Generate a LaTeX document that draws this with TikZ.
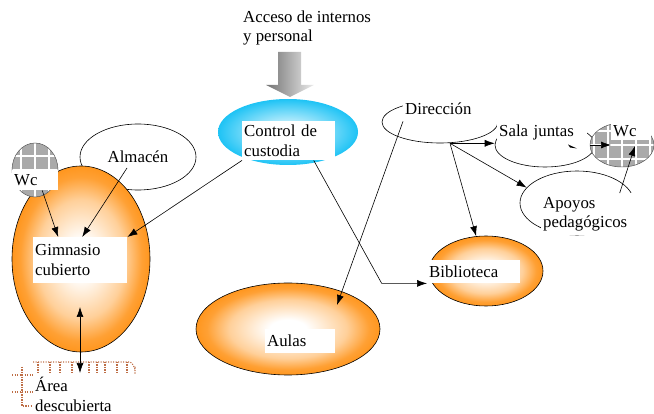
\documentclass[tikz,border=0pt]{standalone}
\usepackage{fontspec}
\setmainfont{Liberation Serif}
\usetikzlibrary{shapes.geometric,arrows.meta}
\definecolor{ballorange}{RGB}{255,150,30}
\definecolor{ballcyan}{RGB}{30,195,245}
\definecolor{tilegray}{RGB}{170,170,170}
\definecolor{dotbrown}{RGB}{190,110,70}
\pgfdeclareradialshading{ballshade}{\pgfpoint{0bp}{0bp}}{color(0bp)=(white); color(5bp)=(white); color(16bp)=(ballorange!45!white); color(22bp)=(ballorange!90!white); color(25bp)=(ballorange); color(50bp)=(ballorange)}

\begin{document}
\begin{tikzpicture}[x=1pt,y=-1pt,
  every node/.style={font=\fontsize{16.8}{19.5}\selectfont},
  lbl/.style={fill=white,anchor=north west,inner xsep=2pt,inner ysep=0pt,align=left},
  ball/.style={ellipse,draw,line width=0.6pt,shading=ballshade},
  room/.style={ellipse,draw,line width=0.6pt,fill=white},
  tiles/.style={ellipse,draw=black!65,line width=0.5pt,fill=tilegray,
    path picture={\draw[white,line width=2pt,step=14pt] (path picture bounding box.south west) grid (path picture bounding box.north east);}},
  arr/.style={line width=0.6pt,-{Latex[length=10pt,width=7pt]}},
  dbl/.style={line width=0.6pt,{Latex[length=10pt,width=7pt]}-{Latex[length=10pt,width=7pt]}},
  dotgrid/.style={dotbrown,line width=1.1pt,dash pattern=on 1.1pt off 1.4pt}]
\useasboundingbox (0,0) rectangle (654,414);

\node[lbl,inner xsep=0pt] (acc) at (243,10.5) {Acceso de internos\\y personal};
\shade[left color=black!55,right color=black!8] (278,52) -- (301,52) -- (301,85) -- (314,85) -- (290,97) -- (266,85) -- (278,85) -- cycle;
\node[ellipse,minimum width=140pt,minimum height=66pt,inner color=white,outer color=ballcyan] (cus) at (288,132) {};
\node[lbl,text width=89pt,minimum height=39pt] (custxt) at (242,121) {Control de\\custodia};

\node[room,minimum width=116pt,minimum height=66pt] (alm) at (138,157) {Almacén};
\node[ball,minimum width=138pt,minimum height=186pt] (gim) at (81,259) {};
\node[tiles,minimum width=46pt,minimum height=54pt] (wcl) at (35,170) {};
\node[lbl,text width=42pt,minimum height=20pt] (wcltxt) at (12,170) {Wc};
\node[lbl,text width=90pt,minimum height=46pt] (gimtxt) at (33,237) {Gimnasio\\cubierto};

\draw[dotgrid] (33,362) -- (130,362) to[out=0,in=-90] (135,368) -- (135,374);
\foreach \x in {38,50,60,72,89,97,105,117,127}
  \draw[dotgrid] (\x,362) -- (\x,374);
\draw[dotgrid] (12,375) -- (33,375);
\draw[dotgrid] (12,392) -- (33,392);
\draw[dotgrid] (22,367) -- (22,406) -- (32,406);
\node[lbl,text width=81pt,minimum height=34pt] (aretxt) at (33,377) {Área\\descubierta};
\coordinate (gimin) at (80,307);
\coordinate (arein) at (80,373);

\node[ball,minimum width=184pt,minimum height=92pt] (aul) at (288,329) {};
\node[lbl,text width=66pt,minimum height=24pt] (aultxt) at (265,329) {Aulas};
\node[ball,minimum width=114pt,minimum height=70pt] (bib) at (486,271) {};
\node[lbl,text width=89pt,minimum height=23pt] (bibtxt) at (427,260) {Biblioteca};

\node[room,minimum width=116pt,minimum height=42pt] (dir) at (440,122) {};
\node[lbl,text width=91pt,minimum height=25pt] (dirtxt) at (403,96) {Dirección};
\node[room,minimum width=100pt,minimum height=44pt] (sal) at (545,145) {};
\node[lbl,text width=86pt,minimum height=29pt] (saltxt) at (497,118) {Sala juntas};
\node[tiles,minimum width=64pt,minimum height=44pt] (wcr) at (622,145) {};
\node[lbl,text width=36pt,minimum height=18pt] (wcrtxt) at (611,122) {Wc};
\node[room,minimum width=114pt,minimum height=64pt] (apo) at (577,203) {};
\node[lbl,text width=95pt,minimum height=42pt] (apotxt) at (541,193) {Apoyos\\pedagógicos};
\fill (568,144.5) -- (577,148.5) -- (570,147.5) -- cycle;

\draw[arr] ([xshift=7pt]wcltxt.south) -- ([xshift=-22pt]gimtxt.north);
\draw[arr] ([shift={(-11,11)}]alm.center) -- ([xshift=2pt]gimtxt.north);
\draw[arr] (custxt.south west) -- (gimtxt.north east);
\draw[arr] ([xshift=25pt]custxt.south) -- ++(68,123) -- (bibtxt.south west);
\draw[arr] (dirtxt.south west) -- ([shift={(49,-24)}]aul.center);
\coordinate (dirfoot) at ([xshift=10pt]dir.south);
\draw[arr] (dirfoot) -- (dirfoot -| sal.west);
\draw[arr] (dirfoot) -- (apo.163);
\draw[arr] (dirfoot) -- (bib);
\draw[arr] ([xshift=-5pt]sal.east) -- ([xshift=-11pt]wcr.center);
\draw[arr] ([xshift=29pt]apotxt.north) -- ([shift={(13,1)}]wcr.center);
\draw[dbl] (gimin) -- (arein);
\end{tikzpicture}
\end{document}
